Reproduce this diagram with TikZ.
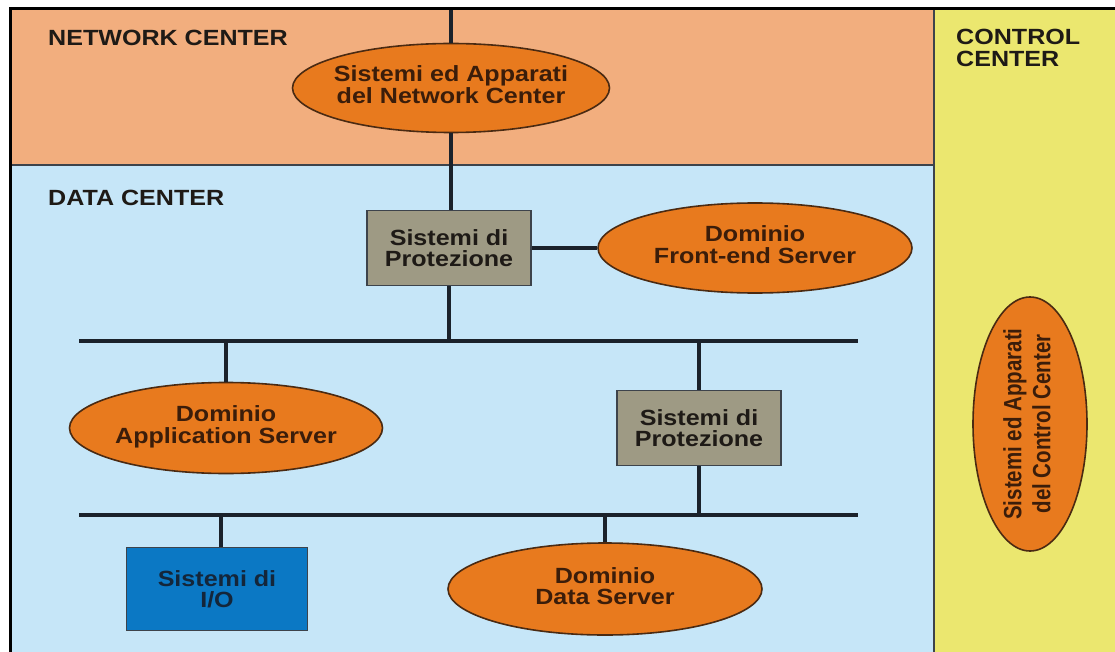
\documentclass[tikz,border=0pt]{standalone}
\usepackage{fontspec}
\usetikzlibrary{shapes.geometric}
\newfontfamily\hfont{Liberation Sans}[FakeStretch=1.14]
\newfontfamily\rfont{Liberation Sans}[FakeStretch=0.82]
\definecolor{ncbg}{HTML}{F2AE7E}
\definecolor{dcbg}{HTML}{C6E6F8}
\definecolor{ccbg}{HTML}{EBE76F}
\definecolor{ellfill}{HTML}{E87A1E}
\definecolor{elldraw}{HTML}{4A2A12}
\definecolor{boxgray}{HTML}{9E9A84}
\definecolor{ioblue}{HTML}{0B78C4}
\definecolor{wirec}{HTML}{1B222B}
\definecolor{ink}{HTML}{1E1A16}
\definecolor{brownink}{HTML}{3B1D0A}
\definecolor{ioink}{HTML}{14263A}
\newcommand{\twol}[2]{\makebox[0pt]{\begin{tabular}{@{}c@{}}#1\\#2\end{tabular}}}
\begin{document}
\begin{tikzpicture}[x=1pt,y=-1pt,
  ell/.style={ellipse, fill=ellfill, draw=elldraw, line width=1.6pt, inner sep=0pt,
    text=brownink, font=\hfont\bfseries\fontsize{22}{20.5}\selectfont},
  sysbox/.style={rectangle, draw=wirec!85, line width=1.6pt, inner sep=0pt,
    minimum width=164pt, minimum height=75pt, fill=boxgray, text=ink, align=center,
    font=\hfont\bfseries\fontsize{22}{21}\selectfont},
  iobox/.style={sysbox, fill=ioblue, text=ioink, minimum width=181pt, minimum height=83pt},
  wire/.style={draw=wirec, line width=3.6pt},
  heading/.style={inner sep=0pt, text=ink, font=\hfont\bfseries\fontsize{22}{22}\selectfont},
  divider/.style={draw=wirec!85, line width=1.8pt}]
\useasboundingbox (0,0) rectangle (1115,652);
% backgrounds
\fill[ncbg] (10,8) rectangle (934,165);
\fill[dcbg] (10,165) rectangle (934,652);
\fill[ccbg] (934,8) rectangle (1115,652);
\draw[divider] (10,165) -- (934,165);
\draw[divider] (934,8) -- (934,652);
\draw[draw=black, line width=3.6pt] (1115,8.5) -- (10.5,8.5) -- (10.5,652);
% headings
\node[heading, anchor=base west] (hnc) at (48,46) {NETWORK CENTER};
\node[heading, anchor=base west] (hdc) at (48,206) {DATA CENTER};
\node[heading, anchor=north west, align=left] (hcc) at (956,29) {CONTROL\\CENTER};
% nodes
\node[ell, minimum width=317pt, minimum height=89pt] (nc) at (451,88) {\twol{Sistemi ed Apparati}{del Network Center}};
\node[sysbox] (p1) at (449,248) {Sistemi di\\Protezione};
\node[ell, minimum width=314pt, minimum height=90pt] (fe) at (755,248) {\twol{Dominio}{Front-end Server}};
\node[ell, minimum width=313pt, minimum height=91pt] (app) at (226,428) {\twol{Dominio}{Application Server}};
\node[sysbox] (p2) at (699,428) {Sistemi di\\Protezione};
\node[iobox] (io) at (217,589) {Sistemi di\\I/O};
\node[ell, minimum width=314pt, minimum height=92pt] (ds) at (605,589) {\twol{Dominio}{Data Server}};
\node[ell, rotate=90, minimum width=254pt, minimum height=114pt,
  font=\rfont\bfseries\fontsize{25}{29}\selectfont] (cc) at (1030,424) {\twol{Sistemi ed Apparati}{del Control Center}};
% bus coordinates
\coordinate (top) at (451,10);
\coordinate (b1l) at (79,341);
\coordinate (b1r) at (858,341);
\coordinate (b2l) at (79,515);
\coordinate (b2r) at (858,515);
% connectors
\draw[wire] (top) -- (nc.north);
\draw[wire] (nc.south) -- (p1.north -| nc.south);
\draw[wire] (p1.east) -- (fe.west);
\draw[wire] (p1.south) -- (p1.south |- b1l);
\draw[wire] (b1l) -- (b1r);
\draw[wire] (app.north |- b1l) -- (app.north);
\draw[wire] (p2.north |- b1l) -- (p2.north);
\draw[wire] (p2.south) -- (p2.south |- b2l);
\draw[wire] (b2l) -- (b2r);
\draw[wire] ([xshift=4pt]io.north |- b2l) -- ([xshift=4pt]io.north);
\draw[wire] (ds.north |- b2l) -- (ds.north);
\end{tikzpicture}
\end{document}
